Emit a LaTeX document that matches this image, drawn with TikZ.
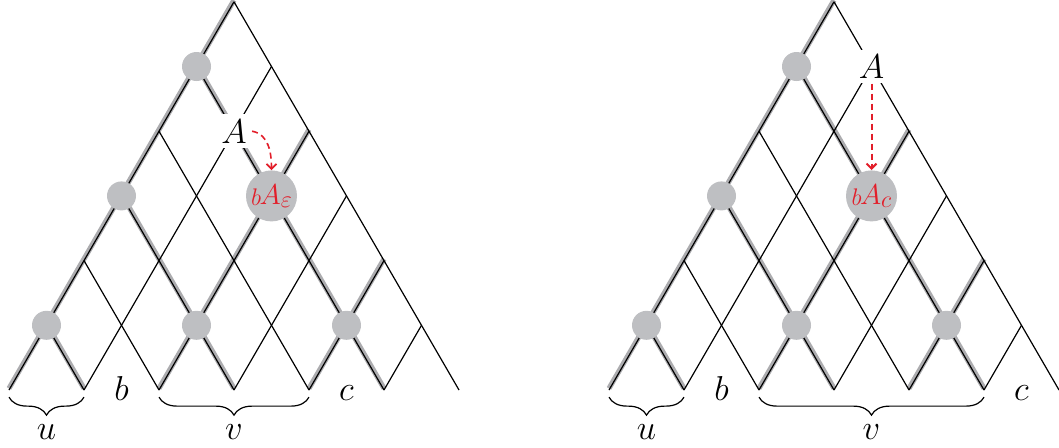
\documentclass[tikz,border=0pt]{standalone}
\usepackage{tikz}
\usetikzlibrary{arrows.meta,decorations.pathreplacing}
\definecolor{dotgray}{RGB}{190,191,194}
\definecolor{shadegray}{RGB}{172,172,175}
\definecolor{tracered}{RGB}{226,30,42}

\begin{document}
\begin{tikzpicture}[
  x=18.75pt, y=32.35pt,
  font=\fontsize{16.5}{19}\selectfont,
  edge/.style={black, line width=0.6pt},
  hl/.style={shadegray, line width=2.6pt, yshift=0.8pt},
  dot/.style={circle, fill=dotgray, inner sep=0pt, minimum size=14.5pt},
  bigdot/.style={circle, fill=dotgray, inner sep=0pt, minimum size=25.5pt, text=tracered, font=\fontsize{14}{16}\selectfont},
  sym/.style={fill=white, inner sep=2.5pt},
  leaf/.style={anchor=base, inner sep=0pt},
  brc/.style={decorate, decoration={brace, mirror, amplitude=9pt}, line width=0.6pt},
  arr/.style={-{Straight Barb[length=2.5pt, width=5pt]}, color=tracered, line width=0.8pt, dash pattern=on 3pt off 2pt}
]
\useasboundingbox (-4.5pt,-28.5pt) rectangle (525pt,195pt);

% both triangles: same lattice, same marked paths
\foreach \dx/\side in {0/l, 16/r} {
  \begin{scope}[shift={(\dx,0)}]
    % marked paths first, under the lattice
    \draw[hl] (0,0) -- (6,6);
    \draw[hl] (1,1) -- (2,0);
    \draw[hl] (3,3) -- (6,0);
    \draw[hl] (5,5) -- (10,0);
    \draw[hl] (4,0) -- (8,4);
    \draw[hl] (8,0) -- (10,2);
    % lattice
    \foreach \k in {0,...,5}
      \draw[edge] (2*\k,0) -- (\k+6,6-\k);
    \foreach \k in {1,...,6}
      \draw[edge] (2*\k,0) -- (\k,\k);
    \node[dot] (\side01) at (1,1) {};
    \node[dot] (\side23) at (5,1) {};
    \node[dot] (\side45) at (9,1) {};
    \node[dot] (\side03) at (3,3) {};
    \node[dot] (\side05) at (5,5) {};
    \node[leaf] (\side b) at (3,-0.155) {$b$};
    \node[leaf] (\side u) at (1,-0.77) {$u$};
    \draw[brc] (0,-0.11) -- (2,-0.11);
  \end{scope}
}

% left triangle
\node[bigdot] (lbA) at (7,3) {\raisebox{-0.5pt}{\fontsize{12.5}{14}\selectfont$b$}\kern-0.8pt$A$\raisebox{-1.5pt}{\fontsize{12.5}{14}\selectfont$\varepsilon$}};
\node[sym] (lA) at (6,4) {$A$};
\node[leaf] (lc) at (9,-0.155) {$c$};
\node[leaf] (lv) at (6,-0.77) {$v$};
\draw[brc] (4,-0.11) -- (8,-0.11);
\draw[arr] (lA.east) to[out=-10, in=90] (lbA.north);

% right triangle
\node[bigdot] (rbA) at (23,3) {\raisebox{-0.5pt}{\fontsize{12.5}{14}\selectfont$b$}\kern-0.8pt$A$\raisebox{-1.5pt}{\fontsize{12.5}{14}\selectfont$c$}};
\node[sym] (rA) at (23,5) {$A$};
\node[leaf] (rc) at (27,-0.155) {$c$};
\node[leaf] (rv) at (23,-0.77) {$v$};
\draw[brc] (20,-0.11) -- (26,-0.11);
\draw[arr, line width=1pt] (rA.south) to (rbA.north);
\end{tikzpicture}
\end{document}
